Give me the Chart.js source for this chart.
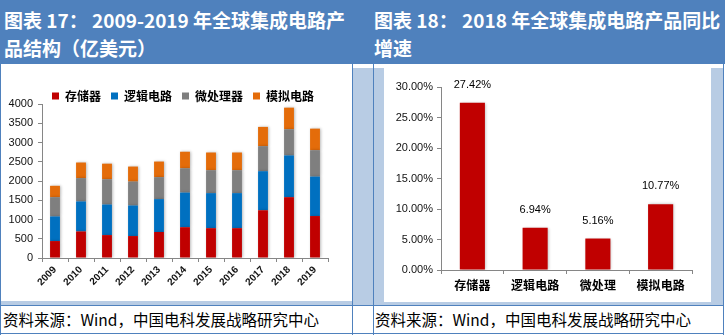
<!DOCTYPE html>
<html>
<head>
<meta charset="utf-8">
<script src="https://cdn.jsdelivr.net/npm/chart.js@4.4.1/dist/chart.umd.min.js"></script>
<style>
  body { margin: 0; width: 725px; height: 335px; position: relative; overflow: hidden; background: #fff; font-family: "Noto Sans CJK SC", sans-serif; }
  .abs { position: absolute; }
  .header { left: 0; top: 0; width: 725px; height: 64px; background: #4f81bd; }
  .title { top: 6px; color: #fff; font-weight: bold; font-size: 19px; line-height: 28px; white-space: nowrap; }
  .pale { background: #b8cce4; }
  .vline { width: 1px; background: #4f81bd; }
  .hline { height: 1px; background: #4f81bd; }
  .source { top: 306px; font-size: 15.5px; line-height: 27px; color: #000; white-space: nowrap; }
</style>
</head>
<body>
<div class="abs header"></div>
<div class="abs title" style="left:4px">图表 17： 2009-2019 年全球集成电路产<br>品结构（亿美元）</div>
<div class="abs title" style="left:374px">图表 18： 2018 年全球集成电路产品同比<br>增速</div>

<div class="abs pale" style="left:1px;top:301px;width:351px;height:4px"></div>
<div class="abs pale" style="left:352px;top:68px;width:32px;height:237px"></div>
<div class="abs pale" style="left:384px;top:302px;width:327px;height:3px"></div>
<div class="abs pale" style="left:711px;top:68px;width:12px;height:237px"></div>

<div class="abs" style="left:2px;top:64px;width:350px;height:237px"><canvas id="structureChart"></canvas></div>
<div class="abs" style="left:384px;top:68px;width:327px;height:234px"><canvas id="growthChart"></canvas></div>

<div class="abs vline" style="left:0;top:64px;height:271px"></div>
<div class="abs vline" style="left:352px;top:64px;height:271px"></div>
<div class="abs vline" style="left:373px;top:64px;height:271px"></div>
<div class="abs vline" style="left:723px;top:64px;height:271px"></div>
<div class="abs hline" style="left:0;top:305px;width:724px"></div>
<div class="abs hline" style="left:0;top:333px;width:724px"></div>

<div class="abs source" style="left:3px">资料来源：Wind，中国电科发展战略研究中心</div>
<div class="abs source" style="left:375px">资料来源：Wind，中国电科发展战略研究中心</div>

<script>
const years = ["2009", "2010", "2011", "2012", "2013", "2014", "2015", "2016", "2017", "2018", "2019"];
const memory = [440, 690, 595, 570, 675, 800, 775, 775, 1240, 1580, 1090];
const logic = [640, 780, 795, 795, 855, 900, 910, 910, 1015, 1085, 1025];
const micro = [500, 605, 655, 620, 570, 630, 595, 595, 650, 680, 685];
const analog = [295, 405, 405, 390, 405, 430, 460, 460, 500, 560, 560];

const growthLabels = ["存储器", "逻辑电路", "微处理", "模拟电路"];
const growth = [27.42, 6.94, 5.16, 10.77];

const AXIS_GRAY = "#868686";
const TICK_FONT = { family: "Liberation Sans", size: 11 };

// soft halo behind bars, like the office chart
const barShadow = {
  id: "barShadow",
  beforeDatasetDraw(chart) {
    const ctx = chart.ctx;
    ctx.save();
    ctx.shadowColor = "rgba(0,0,0,0.28)";
    ctx.shadowBlur = 3;
    ctx.shadowOffsetX = 1;
    ctx.shadowOffsetY = 0;
  },
  afterDatasetDraw(chart) {
    chart.ctx.restore();
  },
};

const valueLabels = {
  id: "valueLabels",
  afterDatasetsDraw(chart) {
    const ctx = chart.ctx;
    const meta = chart.getDatasetMeta(0);
    ctx.save();
    ctx.font = "11px 'Liberation Sans'";
    ctx.fillStyle = "#000";
    ctx.textAlign = "center";
    ctx.textBaseline = "middle";
    meta.data.forEach((bar, i) => {
      ctx.fillText(growth[i].toFixed(2) + "%", bar.x, bar.y - 18);
    });
    ctx.restore();
  },
};

function stackSet(label, data, color) {
  return {
    label,
    data,
    backgroundColor: color,
    borderWidth: 0,
    barPercentage: 0.76,
    categoryPercentage: 0.5,
  };
}

new Chart(document.getElementById("structureChart"), {
  type: "bar",
  data: {
    labels: years,
    datasets: [
      stackSet("存储器", memory, "#c00000"),
      stackSet("逻辑电路", logic, "#0070c0"),
      stackSet("微处理器", micro, "#7f7f7f"),
      stackSet("模拟电路", analog, "#e46c0a"),
    ],
  },
  options: {
    responsive: true,
    maintainAspectRatio: false,
    animation: false,
    layout: { padding: { top: 16, left: 0, right: 24, bottom: 0 } },
    plugins: {
      legend: {
        position: "top",
        align: "start",
        fullSize: false,
        labels: {
          color: "#000",
          font: { family: "Noto Sans CJK SC", size: 12, weight: "bold" },
          boxWidth: 7,
          boxHeight: 7,
          padding: 10,
        },
      },
      tooltip: { enabled: false },
    },
    scales: {
      x: {
        stacked: true,
        border: { color: AXIS_GRAY },
        grid: { drawOnChartArea: false, tickLength: 4, color: AXIS_GRAY },
        ticks: {
          color: "#111",
          font: { family: "Liberation Sans", size: 10, weight: "bold" },
          minRotation: 45,
          maxRotation: 45,
          padding: 2,
        },
        afterFit: scale => { scale.height = 43; },
      },
      y: {
        stacked: true,
        min: 0,
        max: 4000,
        border: { color: AXIS_GRAY },
        grid: { drawOnChartArea: false, tickLength: 4, color: AXIS_GRAY },
        ticks: {
          stepSize: 500,
          color: "#111",
          font: TICK_FONT,
          padding: 5,
          callback: value => String(value),
        },
        afterFit: scale => { scale.width = 40; },
      },
    },
  },
  plugins: [
    barShadow,
    {
      id: "legendSqueeze",
      beforeInit(chart) {
        const fit = chart.legend.fit;
        chart.legend.fit = function () {
          fit.call(this);
          this.height -= 8;
        };
      },
    },
  ],
});

new Chart(document.getElementById("growthChart"), {
  type: "bar",
  data: {
    labels: growthLabels,
    datasets: [{
      data: growth,
      backgroundColor: "#c00000",
      borderWidth: 0,
      barPercentage: 0.8,
      categoryPercentage: 0.5,
    }],
  },
  options: {
    responsive: true,
    maintainAspectRatio: false,
    animation: false,
    layout: { padding: { top: 19, left: 0, right: 19, bottom: 0 } },
    plugins: {
      legend: { display: false },
      tooltip: { enabled: false },
    },
    scales: {
      x: {
        border: { color: AXIS_GRAY },
        grid: { drawOnChartArea: false, tickLength: 4, color: AXIS_GRAY },
        ticks: {
          color: "#000",
          font: { family: "Noto Sans CJK SC", size: 12, weight: "bold" },
          padding: 4,
        },
        afterFit: scale => { scale.height = 32; },
      },
      y: {
        min: 0,
        max: 30,
        border: { color: AXIS_GRAY },
        grid: { drawOnChartArea: false, tickLength: 4, color: AXIS_GRAY },
        ticks: {
          stepSize: 5,
          color: "#111",
          font: TICK_FONT,
          padding: 4,
          callback: value => Number(value).toFixed(2) + "%",
        },
        afterFit: scale => { scale.width = 57; },
      },
    },
  },
  plugins: [barShadow, valueLabels],
});
</script>
</body>
</html>
